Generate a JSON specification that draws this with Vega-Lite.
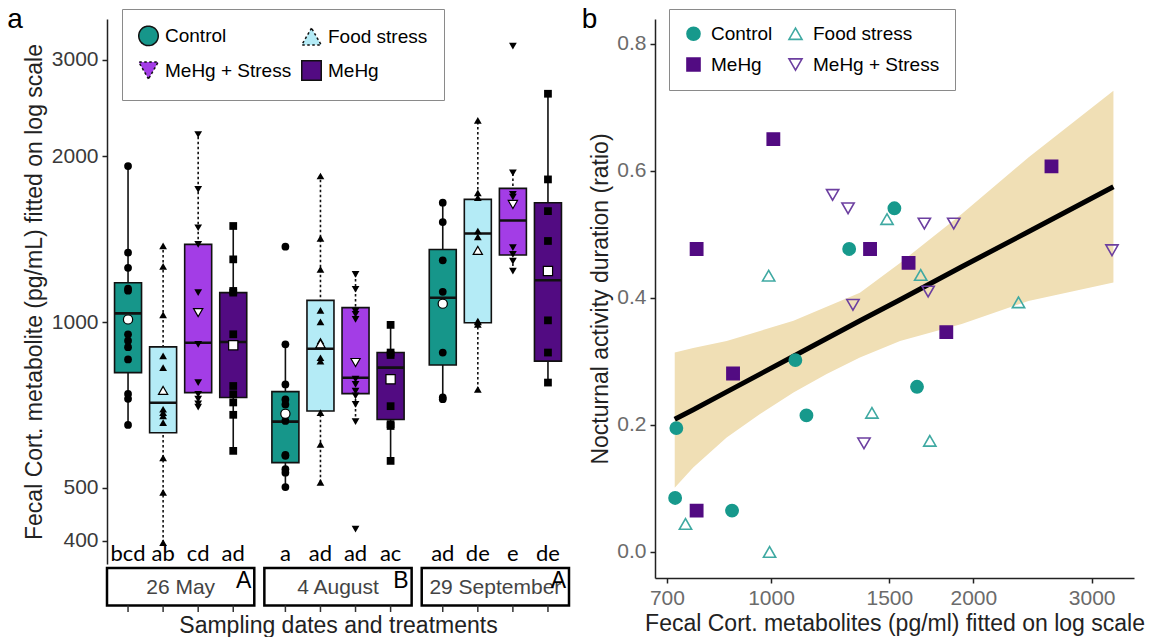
{
  "$schema": "https://vega.github.io/schema/vega-lite/v6.json",
  "background": "white",
  "padding": {"left": 7, "top": 5, "right": 0, "bottom": 0},
  "config": {
    "view": {"stroke": null},
    "font": "Liberation Sans",
    "axis": {"grid": false, "domainColor": "#222", "domainWidth": 1.5, "tickColor": "#222", "tickWidth": 1.5, "tickSize": 5, "labelFontSize": 21, "labelFont": "Liberation Sans", "titleFont": "Liberation Sans", "titleFontSize": 23, "titleFontWeight": "normal", "titleColor": "#222"},
    "legend": {"labelFont": "Liberation Sans", "labelFontSize": 19, "labelColor": "#000", "strokeColor": "#8a8a8a", "fillColor": "white", "direction": "horizontal"}
  },
  "datasets": {
    "boxes": [
      {"date": "26 May", "treatment": "Control", "lower": 651, "q1": 809, "median": 1037, "q3": 1179, "upper": 1921, "mean": 1011},
      {"date": "26 May", "treatment": "Food stress", "lower": 397, "q1": 629, "median": 713, "q3": 901, "upper": 1375, "mean": 751},
      {"date": "26 May", "treatment": "MeHg + Stress", "lower": 709, "q1": 744, "median": 917, "q3": 1384, "upper": 2193, "mean": 1040},
      {"date": "26 May", "treatment": "MeHg", "lower": 583, "q1": 729, "median": 920, "q3": 1131, "upper": 1495, "mean": 907},
      {"date": "4 August", "treatment": "Control", "lower": 500, "q1": 555, "median": 659, "q3": 747, "upper": 911, "mean": 681},
      {"date": "4 August", "treatment": "Food stress", "lower": 511, "q1": 689, "median": 894, "q3": 1095, "upper": 1843, "mean": 913},
      {"date": "4 August", "treatment": "MeHg + Stress", "lower": 659, "q1": 741, "median": 792, "q3": 1062, "upper": 1221, "mean": 844},
      {"date": "4 August", "treatment": "MeHg", "lower": 559, "q1": 665, "median": 826, "q3": 880, "upper": 988, "mean": 787},
      {"date": "29 September", "treatment": "Control", "lower": 729, "q1": 835, "median": 1107, "q3": 1355, "upper": 1648, "mean": 1080},
      {"date": "29 September", "treatment": "Food stress", "lower": 754, "q1": 997, "median": 1449, "q3": 1671, "upper": 2326, "mean": 1350},
      {"date": "29 September", "treatment": "MeHg + Stress", "lower": 1238, "q1": 1324, "median": 1530, "q3": 1750, "upper": 1868, "mean": 1636},
      {"date": "29 September", "treatment": "MeHg", "lower": 776, "q1": 849, "median": 1191, "q3": 1648, "upper": 2601, "mean": 1238}
    ],
    "pts": [
      {"date": "26 May", "treatment": "Control", "value": 1921}, {"date": "26 May", "treatment": "Control", "value": 1337}, {"date": "26 May", "treatment": "Control", "value": 1255}, {"date": "26 May", "treatment": "Control", "value": 1150}, {"date": "26 May", "treatment": "Control", "value": 1140}, {"date": "26 May", "treatment": "Control", "value": 950}, {"date": "26 May", "treatment": "Control", "value": 925}, {"date": "26 May", "treatment": "Control", "value": 900}, {"date": "26 May", "treatment": "Control", "value": 855}, {"date": "26 May", "treatment": "Control", "value": 740}, {"date": "26 May", "treatment": "Control", "value": 725}, {"date": "26 May", "treatment": "Control", "value": 650},
      {"date": "26 May", "treatment": "Food stress", "value": 1375}, {"date": "26 May", "treatment": "Food stress", "value": 1262}, {"date": "26 May", "treatment": "Food stress", "value": 1030}, {"date": "26 May", "treatment": "Food stress", "value": 868}, {"date": "26 May", "treatment": "Food stress", "value": 826}, {"date": "26 May", "treatment": "Food stress", "value": 694}, {"date": "26 May", "treatment": "Food stress", "value": 684}, {"date": "26 May", "treatment": "Food stress", "value": 675}, {"date": "26 May", "treatment": "Food stress", "value": 656}, {"date": "26 May", "treatment": "Food stress", "value": 566}, {"date": "26 May", "treatment": "Food stress", "value": 490}, {"date": "26 May", "treatment": "Food stress", "value": 397},
      {"date": "26 May", "treatment": "MeHg + Stress", "value": 2193}, {"date": "26 May", "treatment": "MeHg + Stress", "value": 1743}, {"date": "26 May", "treatment": "MeHg + Stress", "value": 1484}, {"date": "26 May", "treatment": "MeHg + Stress", "value": 1384}, {"date": "26 May", "treatment": "MeHg + Stress", "value": 1131}, {"date": "26 May", "treatment": "MeHg + Stress", "value": 911}, {"date": "26 May", "treatment": "MeHg + Stress", "value": 776}, {"date": "26 May", "treatment": "MeHg + Stress", "value": 739}, {"date": "26 May", "treatment": "MeHg + Stress", "value": 724}, {"date": "26 May", "treatment": "MeHg + Stress", "value": 710}, {"date": "26 May", "treatment": "MeHg + Stress", "value": 700},
      {"date": "26 May", "treatment": "MeHg", "value": 1495}, {"date": "26 May", "treatment": "MeHg", "value": 1300}, {"date": "26 May", "treatment": "MeHg", "value": 1139}, {"date": "26 May", "treatment": "MeHg", "value": 1131}, {"date": "26 May", "treatment": "MeHg", "value": 950}, {"date": "26 May", "treatment": "MeHg", "value": 765}, {"date": "26 May", "treatment": "MeHg", "value": 739}, {"date": "26 May", "treatment": "MeHg", "value": 714}, {"date": "26 May", "treatment": "MeHg", "value": 678}, {"date": "26 May", "treatment": "MeHg", "value": 583},
      {"date": "4 August", "treatment": "Control", "value": 1371}, {"date": "4 August", "treatment": "Control", "value": 911}, {"date": "4 August", "treatment": "Control", "value": 770}, {"date": "4 August", "treatment": "Control", "value": 723}, {"date": "4 August", "treatment": "Control", "value": 708}, {"date": "4 August", "treatment": "Control", "value": 661}, {"date": "4 August", "treatment": "Control", "value": 573}, {"date": "4 August", "treatment": "Control", "value": 571}, {"date": "4 August", "treatment": "Control", "value": 540}, {"date": "4 August", "treatment": "Control", "value": 532}, {"date": "4 August", "treatment": "Control", "value": 501},
      {"date": "4 August", "treatment": "Food stress", "value": 1843}, {"date": "4 August", "treatment": "Food stress", "value": 1419}, {"date": "4 August", "treatment": "Food stress", "value": 1247}, {"date": "4 August", "treatment": "Food stress", "value": 1050}, {"date": "4 August", "treatment": "Food stress", "value": 1001}, {"date": "4 August", "treatment": "Food stress", "value": 924}, {"date": "4 August", "treatment": "Food stress", "value": 861}, {"date": "4 August", "treatment": "Food stress", "value": 849}, {"date": "4 August", "treatment": "Food stress", "value": 684}, {"date": "4 August", "treatment": "Food stress", "value": 599}, {"date": "4 August", "treatment": "Food stress", "value": 511},
      {"date": "4 August", "treatment": "MeHg + Stress", "value": 1221}, {"date": "4 August", "treatment": "MeHg + Stress", "value": 1147}, {"date": "4 August", "treatment": "MeHg + Stress", "value": 1047}, {"date": "4 August", "treatment": "MeHg + Stress", "value": 1033}, {"date": "4 August", "treatment": "MeHg + Stress", "value": 1011}, {"date": "4 August", "treatment": "MeHg + Stress", "value": 787}, {"date": "4 August", "treatment": "MeHg + Stress", "value": 770}, {"date": "4 August", "treatment": "MeHg + Stress", "value": 749}, {"date": "4 August", "treatment": "MeHg + Stress", "value": 734}, {"date": "4 August", "treatment": "MeHg + Stress", "value": 708}, {"date": "4 August", "treatment": "MeHg + Stress", "value": 659}, {"date": "4 August", "treatment": "MeHg + Stress", "value": 420},
      {"date": "4 August", "treatment": "MeHg", "value": 988}, {"date": "4 August", "treatment": "MeHg", "value": 880}, {"date": "4 August", "treatment": "MeHg", "value": 871}, {"date": "4 August", "treatment": "MeHg", "value": 703}, {"date": "4 August", "treatment": "MeHg", "value": 652}, {"date": "4 August", "treatment": "MeHg", "value": 647}, {"date": "4 August", "treatment": "MeHg", "value": 559},
      {"date": "29 September", "treatment": "Control", "value": 1648}, {"date": "29 September", "treatment": "Control", "value": 1520}, {"date": "29 September", "treatment": "Control", "value": 1295}, {"date": "29 September", "treatment": "Control", "value": 1135}, {"date": "29 September", "treatment": "Control", "value": 880}, {"date": "29 September", "treatment": "Control", "value": 729}, {"date": "29 September", "treatment": "Control", "value": 724},
      {"date": "29 September", "treatment": "Food stress", "value": 2326}, {"date": "29 September", "treatment": "Food stress", "value": 1718}, {"date": "29 September", "treatment": "Food stress", "value": 1684}, {"date": "29 September", "treatment": "Food stress", "value": 1464}, {"date": "29 September", "treatment": "Food stress", "value": 1428}, {"date": "29 September", "treatment": "Food stress", "value": 1004}, {"date": "29 September", "treatment": "Food stress", "value": 1000}, {"date": "29 September", "treatment": "Food stress", "value": 990}, {"date": "29 September", "treatment": "Food stress", "value": 754},
      {"date": "29 September", "treatment": "MeHg + Stress", "value": 3176}, {"date": "29 September", "treatment": "MeHg + Stress", "value": 1868}, {"date": "29 September", "treatment": "MeHg + Stress", "value": 1707}, {"date": "29 September", "treatment": "MeHg + Stress", "value": 1688}, {"date": "29 September", "treatment": "MeHg + Stress", "value": 1365}, {"date": "29 September", "treatment": "MeHg + Stress", "value": 1327}, {"date": "29 September", "treatment": "MeHg + Stress", "value": 1291}, {"date": "29 September", "treatment": "MeHg + Stress", "value": 1238},
      {"date": "29 September", "treatment": "MeHg", "value": 2601}, {"date": "29 September", "treatment": "MeHg", "value": 1817}, {"date": "29 September", "treatment": "MeHg", "value": 1591}, {"date": "29 September", "treatment": "MeHg", "value": 1404}, {"date": "29 September", "treatment": "MeHg", "value": 1007}, {"date": "29 September", "treatment": "MeHg", "value": 880}, {"date": "29 September", "treatment": "MeHg", "value": 776}
    ],
    "letters": [
      {"date": "26 May", "treatment": "Control", "letter": "bcd"}, {"date": "26 May", "treatment": "Food stress", "letter": "ab"}, {"date": "26 May", "treatment": "MeHg + Stress", "letter": "cd"}, {"date": "26 May", "treatment": "MeHg", "letter": "ad"},
      {"date": "4 August", "treatment": "Control", "letter": "a"}, {"date": "4 August", "treatment": "Food stress", "letter": "ad"}, {"date": "4 August", "treatment": "MeHg + Stress", "letter": "ad"}, {"date": "4 August", "treatment": "MeHg", "letter": "ac"},
      {"date": "29 September", "treatment": "Control", "letter": "ad"}, {"date": "29 September", "treatment": "Food stress", "letter": "de"}, {"date": "29 September", "treatment": "MeHg + Stress", "letter": "e"}, {"date": "29 September", "treatment": "MeHg", "letter": "de"}
    ],
    "strips": [
      {"date": "26 May", "group": "A"}, {"date": "4 August", "group": "B"}, {"date": "29 September", "group": "A"}
    ],
    "scatter": [
      {"treatment": "Control", "cort": 1526, "ratio": 0.541}, {"treatment": "Control", "cort": 1307, "ratio": 0.477}, {"treatment": "Control", "cort": 1087, "ratio": 0.302}, {"treatment": "Control", "cort": 1649, "ratio": 0.26}, {"treatment": "Control", "cort": 1129, "ratio": 0.215}, {"treatment": "Control", "cort": 723, "ratio": 0.195}, {"treatment": "Control", "cort": 720, "ratio": 0.085}, {"treatment": "Control", "cort": 875, "ratio": 0.065},
      {"treatment": "Food stress", "cort": 1488, "ratio": 0.524}, {"treatment": "Food stress", "cort": 992, "ratio": 0.435}, {"treatment": "Food stress", "cort": 1670, "ratio": 0.436}, {"treatment": "Food stress", "cort": 2335, "ratio": 0.393}, {"treatment": "Food stress", "cort": 1413, "ratio": 0.219}, {"treatment": "Food stress", "cort": 1723, "ratio": 0.175}, {"treatment": "Food stress", "cort": 746, "ratio": 0.044}, {"treatment": "Food stress", "cort": 995, "ratio": 0.0},
      {"treatment": "MeHg", "cort": 1008, "ratio": 0.65}, {"treatment": "MeHg", "cort": 2614, "ratio": 0.607}, {"treatment": "MeHg", "cort": 775, "ratio": 0.477}, {"treatment": "MeHg", "cort": 1404, "ratio": 0.477}, {"treatment": "MeHg", "cort": 1602, "ratio": 0.455}, {"treatment": "MeHg", "cort": 1823, "ratio": 0.346}, {"treatment": "MeHg", "cort": 878, "ratio": 0.281}, {"treatment": "MeHg", "cort": 775, "ratio": 0.065},
      {"treatment": "MeHg + Stress", "cort": 1235, "ratio": 0.562}, {"treatment": "MeHg + Stress", "cort": 1302, "ratio": 0.541}, {"treatment": "MeHg + Stress", "cort": 1691, "ratio": 0.517}, {"treatment": "MeHg + Stress", "cort": 1870, "ratio": 0.517}, {"treatment": "MeHg + Stress", "cort": 3216, "ratio": 0.475}, {"treatment": "MeHg + Stress", "cort": 1713, "ratio": 0.41}, {"treatment": "MeHg + Stress", "cort": 1324, "ratio": 0.389}, {"treatment": "MeHg + Stress", "cort": 1375, "ratio": 0.171}
    ],
    "band": [
      {"cort": 719, "lower": 0.101, "fit": 0.209, "upper": 0.314},
      {"cort": 766, "lower": 0.133, "fit": 0.224, "upper": 0.321},
      {"cort": 859, "lower": 0.18, "fit": 0.252, "upper": 0.332},
      {"cort": 963, "lower": 0.217, "fit": 0.28, "upper": 0.348},
      {"cort": 1080, "lower": 0.251, "fit": 0.308, "upper": 0.364},
      {"cort": 1210, "lower": 0.28, "fit": 0.336, "upper": 0.386},
      {"cort": 1356, "lower": 0.306, "fit": 0.364, "upper": 0.408},
      {"cort": 1556, "lower": 0.332, "fit": 0.397, "upper": 0.455},
      {"cort": 1922, "lower": 0.359, "fit": 0.449, "upper": 0.532},
      {"cort": 2415, "lower": 0.395, "fit": 0.504, "upper": 0.621},
      {"cort": 3232, "lower": 0.424, "fit": 0.575, "upper": 0.726}
    ]
  },
  "spacing": 10,
  "resolve": {"scale": {"x": "independent", "y": "independent", "shape": "independent", "fill": "independent", "stroke": "independent", "strokeDash": "independent", "color": "independent"}, "legend": {"shape": "independent", "fill": "independent", "stroke": "independent", "strokeDash": "independent"}},
  "hconcat": [
    {
      "spacing": 0,
      "vconcat": [
        {
          "width": 462,
          "height": 545,
          "title": {"text": "a", "anchor": "start", "frame": "bounds", "orient": "top", "offset": 0, "fontSize": 28, "fontWeight": "normal", "font": "Liberation Sans", "color": "#000", "dx": -16, "dy": 37, "baseline": "alphabetic"},
          "encoding": {
            "x": {"field": "date", "type": "nominal", "scale": {"domain": ["26 May", "4 August", "29 September"], "paddingInner": 0.064, "paddingOuter": 0}, "axis": null},
            "xOffset": {"field": "treatment", "type": "nominal", "scale": {"domain": ["Control", "Food stress", "MeHg + Stress", "MeHg"], "paddingInner": 0.23, "paddingOuter": 0.215}}
          },
          "layer": [
            {
              "data": {"name": "boxes"},
              "mark": {"type": "rule", "color": "#111", "strokeWidth": 1.6},
              "encoding": {
                "y": {"field": "lower", "type": "quantitative", "scale": {"type": "log", "domain": [363, 3557], "nice": false}, "axis": {"values": [400, 500, 1000, 2000, 3000], "format": "d", "title": "Fecal Cort. metabolite (pg/mL) fitted on log scale", "labelColor": "#3a3a3a", "labelPadding": 4, "titlePadding": 5}},
                "y2": {"field": "upper"},
                "strokeDash": {"field": "treatment", "type": "nominal", "scale": {"domain": ["Control", "Food stress", "MeHg + Stress", "MeHg"], "range": [[1, 0], [2.5, 2.5], [2.5, 2.5], [1, 0]]}}
              }
            },
            {
              "data": {"name": "boxes"},
              "mark": {"type": "rect", "stroke": "#111", "strokeWidth": 1.6, "opacity": 1},
              "encoding": {
                "y": {"field": "q1", "type": "quantitative"},
                "y2": {"field": "q3"},
                "fill": {"field": "treatment", "type": "nominal", "scale": {"domain": ["Control", "Food stress", "MeHg + Stress", "MeHg"], "range": ["#16968A", "#B4EBF6", "#A33DE6", "#520B82"]}, "legend": {"title": null, "orient": "none", "legendX": 15, "legendY": -10, "columns": 2, "padding": 16, "columnPadding": 6, "rowPadding": 8, "symbolType": "square", "symbolSize": 380, "symbolStrokeColor": "#111", "symbolStrokeWidth": 1.5, "symbolOpacity": 1, "labelOffset": 6}},
                "strokeDash": {"field": "treatment", "type": "nominal"}
              }
            },
            {
              "data": {"name": "boxes"},
              "mark": {"type": "rect", "stroke": "#111", "strokeWidth": 2.6, "fillOpacity": 0},
              "encoding": {
                "y": {"field": "median", "type": "quantitative"},
                "y2": {"field": "median"},
                "strokeDash": {"field": "treatment", "type": "nominal"}
              }
            },
            {
              "data": {"name": "pts"},
              "mark": {"type": "point", "filled": true, "size": 60, "color": "#000", "opacity": 1},
              "encoding": {
                "y": {"field": "value", "type": "quantitative"},
                "shape": {"field": "treatment", "type": "nominal", "scale": {"domain": ["Control", "Food stress", "MeHg + Stress", "MeHg"], "range": ["circle", "triangle-up", "triangle-down", "square"]}, "legend": null}
              }
            },
            {
              "data": {"name": "boxes"},
              "mark": {"type": "point", "filled": true, "fill": "white", "stroke": "#000", "strokeWidth": 1.2, "size": 85, "opacity": 1},
              "encoding": {
                "y": {"field": "mean", "type": "quantitative"},
                "shape": {"field": "treatment", "type": "nominal", "legend": null}
              }
            },
            {
              "data": {"name": "letters"},
              "mark": {"type": "text", "font": "Lato", "fontSize": 22, "color": "#000", "baseline": "middle"},
              "encoding": {
                "y": {"datum": 378},
                "text": {"field": "letter", "type": "nominal"}
              }
            }
          ]
        },
        {
          "width": 462,
          "height": 44,
          "encoding": {
            "x": {"field": "date", "type": "nominal", "scale": {"domain": ["26 May", "4 August", "29 September"], "paddingInner": 0.064, "paddingOuter": 0}, "axis": {"title": "Sampling dates and treatments", "labels": false, "ticks": false, "domain": false, "titlePadding": 2}}
          },
          "layer": [
            {
              "data": {"name": "strips"},
              "mark": {"type": "rect", "fill": "white", "stroke": "#000", "strokeWidth": 2.5},
              "encoding": {
                "y": {"datum": 0.15, "type": "quantitative", "scale": {"domain": [0, 1], "nice": false}, "axis": null},
                "y2": {"datum": 1}
              }
            },
            {
              "data": {"name": "strips"},
              "mark": {"type": "text", "fontSize": 21, "color": "#444", "baseline": "middle"},
              "encoding": {
                "y": {"datum": 0.55},
                "text": {"field": "date", "type": "nominal"}
              }
            },
            {
              "data": {"name": "strips"},
              "mark": {"type": "text", "fontSize": 23, "color": "#000", "align": "right", "baseline": "top", "dx": -3, "dy": 2},
              "encoding": {
                "x": {"field": "date", "type": "nominal", "bandPosition": 1},
                "y": {"datum": 1},
                "text": {"field": "group", "type": "nominal"}
              }
            },
            {
              "data": {"name": "letters"},
              "mark": {"type": "rule", "color": "#333", "strokeWidth": 1.5},
              "encoding": {
                "xOffset": {"field": "treatment", "type": "nominal", "scale": {"domain": ["Control", "Food stress", "MeHg + Stress", "MeHg"], "paddingInner": 0.23, "paddingOuter": 0.215}},
                "y": {"datum": 0},
                "y2": {"datum": 0.15}
              }
            }
          ]
        }
      ]
    },
    {
      "width": 479,
      "height": 559,
      "title": {"text": "b", "anchor": "start", "frame": "bounds", "orient": "top", "offset": 0, "fontSize": 28, "fontWeight": "normal", "font": "Liberation Sans", "color": "#000", "dx": -8, "dy": 47, "baseline": "alphabetic"},
      "layer": [
        {
          "data": {"name": "band"},
          "mark": {"type": "area", "color": "#F0DFB5", "opacity": 1},
          "encoding": {
            "x": {"field": "cort", "type": "quantitative", "scale": {"type": "log", "domain": [672, 3468], "nice": false}, "axis": {"values": [700, 1000, 1500, 2000, 3000], "format": "d", "title": "Fecal Cort. metabolites (pg/ml) fitted on log scale", "labelColor": "#6b6b6b", "labelPadding": 4, "titlePadding": 4}},
            "y": {"field": "lower", "type": "quantitative", "scale": {"domain": [-0.041, 0.839], "nice": false, "zero": false}, "axis": {"values": [0, 0.2, 0.4, 0.6, 0.8], "format": ".1f", "title": "Nocturnal activity duration (ratio)", "labelColor": "#6b6b6b", "labelPadding": 4, "titlePadding": 4}},
            "y2": {"field": "upper"}
          }
        },
        {
          "data": {"name": "band"},
          "mark": {"type": "line", "color": "#000", "strokeWidth": 5},
          "encoding": {
            "x": {"field": "cort", "type": "quantitative"},
            "y": {"field": "fit", "type": "quantitative"}
          }
        },
        {
          "data": {"name": "scatter"},
          "mark": {"type": "point", "size": 150, "strokeWidth": 1.6, "opacity": 1},
          "encoding": {
            "x": {"field": "cort", "type": "quantitative"},
            "y": {"field": "ratio", "type": "quantitative"},
            "shape": {"field": "treatment", "type": "nominal", "scale": {"domain": ["Control", "Food stress", "MeHg", "MeHg + Stress"], "range": ["circle", "triangle-up", "square", "triangle-down"]}, "legend": {"title": null, "orient": "none", "legendX": 14, "legendY": -10, "columns": 2, "gridAlign": "each", "padding": 15, "columnPadding": 12, "rowPadding": 10, "symbolSize": 170, "symbolStrokeWidth": 1.6, "labelOffset": 8}},
            "stroke": {"field": "treatment", "type": "nominal", "scale": {"domain": ["Control", "Food stress", "MeHg", "MeHg + Stress"], "range": ["#17998C", "#3FA9A2", "#520B82", "#6C3FA0"]}, "legend": {"title": null, "orient": "none", "legendX": 14, "legendY": -10, "columns": 2, "gridAlign": "each"}},
            "fill": {"field": "treatment", "type": "nominal", "scale": {"domain": ["Control", "Food stress", "MeHg", "MeHg + Stress"], "range": ["#17998C", "transparent", "#520B82", "transparent"]}, "legend": {"title": null, "orient": "none", "legendX": 14, "legendY": -10, "columns": 2, "gridAlign": "each"}}
          }
        }
      ]
    }
  ]
}
